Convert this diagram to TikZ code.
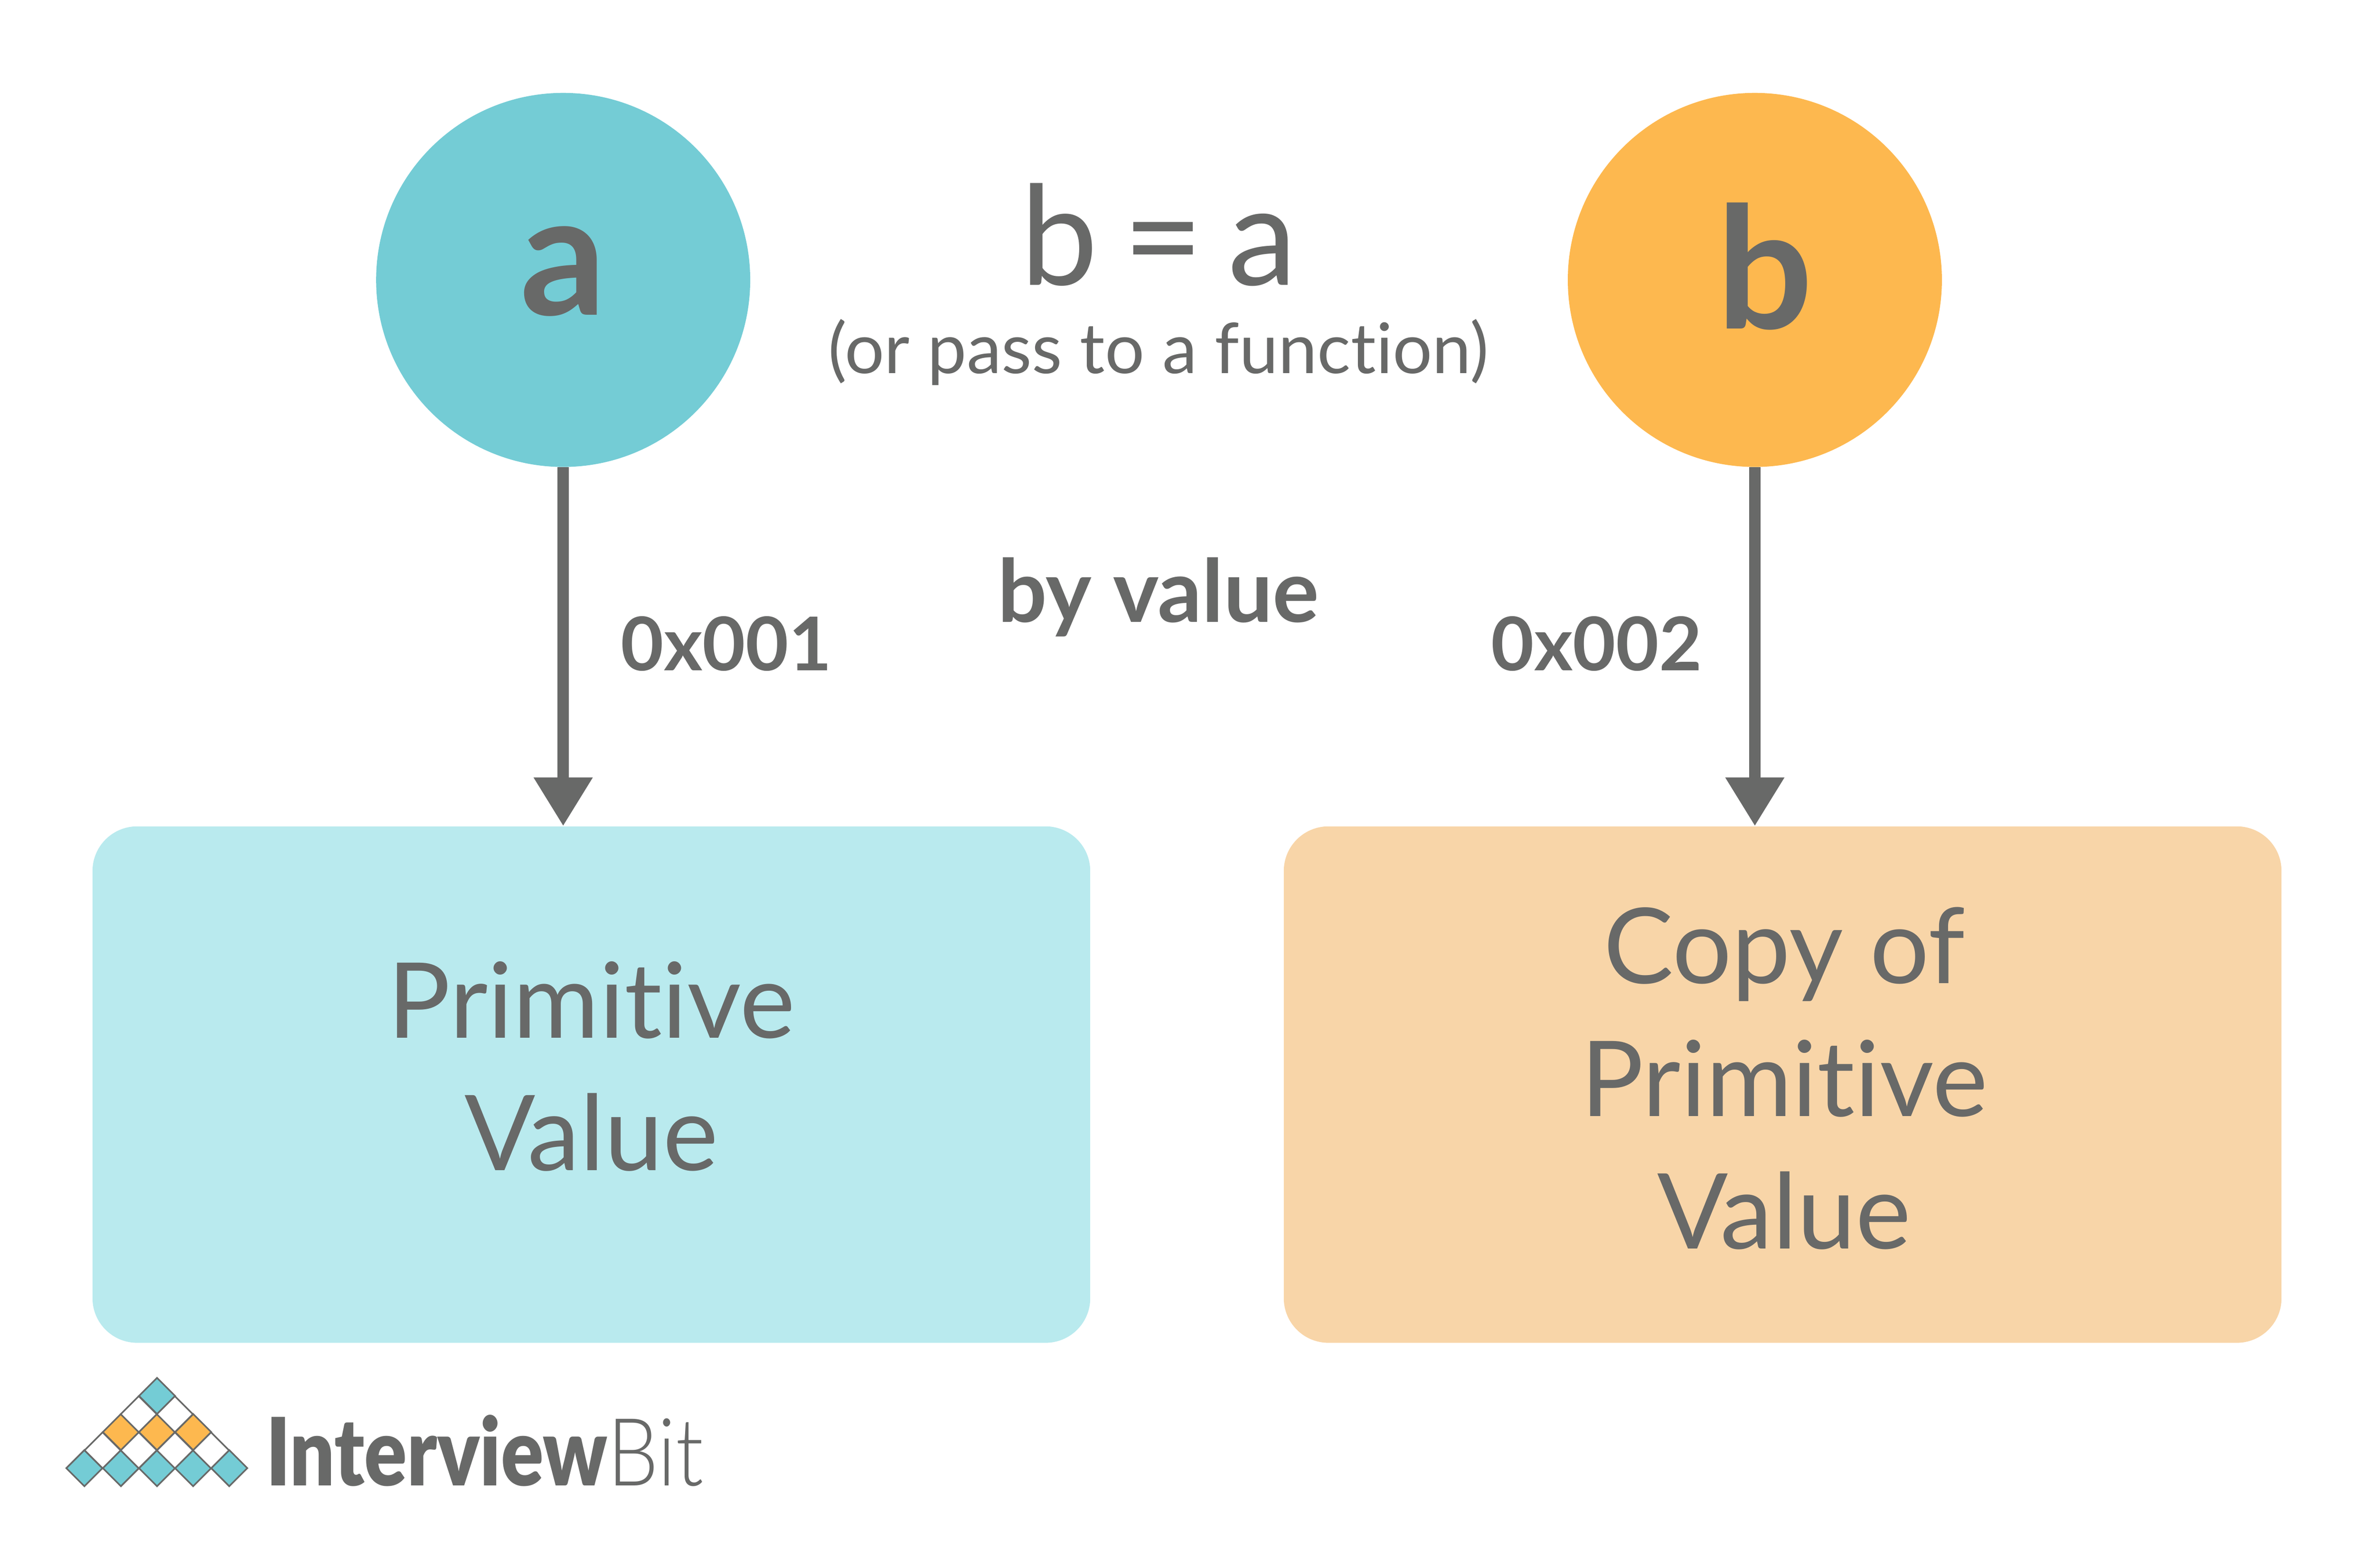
\documentclass[tikz,border=0pt]{standalone}
\usepackage{fontspec}
\setmainfont{Lato}[Ligatures=NoCommon]
\newfontfamily\thinfont{Lato Light}[FakeStretch=0.86]
\newfontfamily\logofont{Lato Black}[FakeStretch=0.84]
\newfontfamily\assignfont{Lato}[WordSpace=0.7]
\usetikzlibrary{shapes,positioning,arrows.meta}
\definecolor{inkgray}{HTML}{686968}
\definecolor{tealdark}{HTML}{74CCD5}
\definecolor{teallight}{HTML}{B9EAEE}
\definecolor{orangedark}{HTML}{FDB84F}
\definecolor{orangelight}{HTML}{F8D5A8}
\tikzset{
 varcircle/.style={circle,minimum size=9.22cm,inner sep=0pt,text=inkgray,font=\bfseries\fontsize{119}{119}\selectfont},
 valuebox/.style={rounded corners=1.1cm,minimum width=24.59cm,minimum height=12.73cm,inner sep=0pt},
 boxtext/.style={align=center,inner sep=0pt,text=inkgray,font=\fontsize{73.5}{93}\selectfont},
 addrtext/.style={anchor=base,inner sep=0pt,text=inkgray,font=\bfseries\fontsize{52}{60}\selectfont},
 pointer/.style={draw=inkgray,line width=0.28cm,-{Triangle[length=1.2cm,width=1.38cm]}},
 cell/.style={diamond,draw=inkgray,line width=0.04cm,minimum size=0.89cm,inner sep=0pt,outer sep=0pt,aspect=1}
}
\begin{document}
\begin{tikzpicture}
 \useasboundingbox (0,0) rectangle (58.51,-38.64);
 \node[varcircle,fill=tealdark,text height=1.72cm,text depth=0pt](a) at (13.88,-6.90){a};
 \node[varcircle,fill=orangedark,text height=2.4cm,text depth=0pt](b) at (43.25,-6.90){\hspace*{0.5cm}b};
 \node[valuebox,fill=teallight](prim) at (14.575,-26.735){};
 \node[valuebox,fill=orangelight](copy) at (43.935,-26.735){};
 \node[boxtext,xshift=0.0cm,yshift=0.45cm](primtext) at (prim){Primitive\\Value};
 \node[boxtext,xshift=0.04cm,yshift=0.15cm](copytext) at (copy){Copy of\\Primitive\\Value};
 \draw[pointer] (a.south) -- (a.south |- prim.north);
 \draw[pointer] (b.south) -- (b.south |- copy.north);
 \node[anchor=base,inner sep=0pt,text=inkgray,font=\assignfont\fontsize{97}{97}\selectfont](assign) at (28.56,-7.03){b = a};
 \node[anchor=base,inner sep=0pt,text=inkgray,font=\fontsize{49}{49}\selectfont](note) at (28.55,-9.20){(or pass to a function)};
 \node[anchor=base,inner sep=0pt,text=inkgray,font=\bfseries\fontsize{61}{61}\selectfont](mode) at (28.55,-15.34){by value};
 \node[addrtext](addra) at (17.90,-16.53){0x001};
 \node[addrtext](addrb) at (39.35,-16.53){0x002};
 % logo
 \foreach \cx/\cy/\cc [count=\i] in {2.08/-36.19/tealdark,2.98/-36.19/tealdark,3.87/-36.19/tealdark,4.76/-36.19/tealdark,5.65/-36.19/tealdark,
  2.53/-35.75/white,3.42/-35.75/white,4.31/-35.75/white,5.20/-35.75/white,
  2.98/-35.30/orangedark,3.87/-35.30/orangedark,4.76/-35.30/orangedark,
  3.42/-34.86/white,4.31/-34.86/white,
  3.87/-34.41/tealdark}
  \node[cell,fill=\cc](cell\i) at (\cx,\cy){};
 \node[anchor=base west,inner sep=0pt,text=inkgray,font=\fontsize{66}{66}\selectfont](logo) at (6.55,-36.62){{\logofont Interview}{\thinfont Bit}};
\end{tikzpicture}
\end{document}
